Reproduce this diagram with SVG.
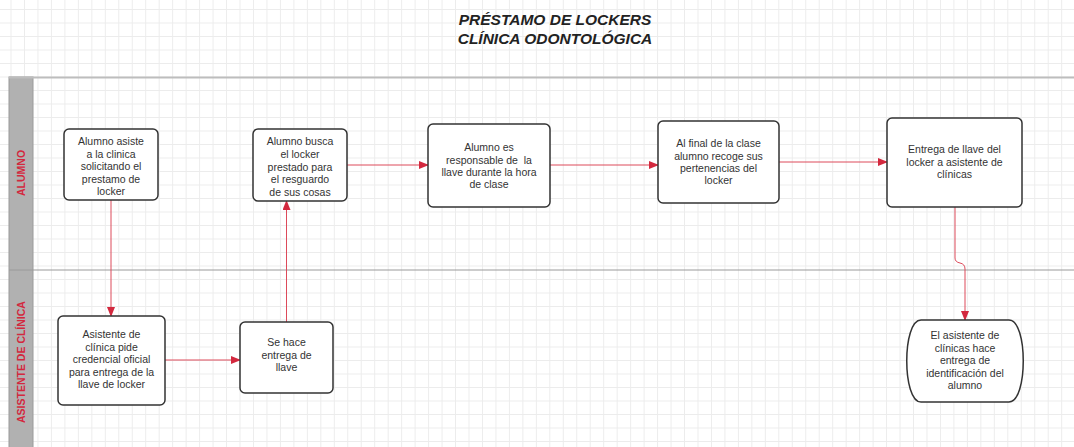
<svg xmlns="http://www.w3.org/2000/svg" width="1074" height="447" viewBox="0 0 1074 447">
<defs>
<pattern id="grid" patternUnits="userSpaceOnUse" x="10.53" y="9" width="13.47" height="13.5">
<path d="M0.5 0V13.5M0 0.5H13.47" stroke="#ececec" stroke-width="1" fill="none"/>
</pattern>
<marker id="arr" markerUnits="userSpaceOnUse" markerWidth="10" markerHeight="8" refX="9" refY="4" orient="auto">
<path d="M0,0 L10,4 L0,8 z" fill="#d3283e"/>
</marker>
<style>
.node{fill:#fff;stroke:#333;stroke-width:1.5}
.t{font-family:"Liberation Sans",Arial,sans-serif;font-size:10.5px;fill:#333;text-anchor:middle}
.lane{font-family:"Liberation Sans",Arial,sans-serif;font-size:10.5px;font-weight:bold;fill:#d3283e;text-anchor:middle}
.title{font-family:"Liberation Sans",Arial,sans-serif;font-size:15.5px;font-weight:bold;font-style:italic;fill:#222;text-anchor:middle}
.c{fill:none;stroke:#dd4a5a;stroke-width:1}
</style>
</defs>
<rect width="1074" height="447" fill="#fff"/>
<rect width="1074" height="447" fill="url(#grid)"/>
<g id="title">
<text class="title" x="555" y="25">PRÉSTAMO DE LOCKERS</text>
<text class="title" x="555" y="43.5">CLÍNICA ODONTOLÓGICA</text>
</g>
<g id="lanes">
<rect x="9" y="77" width="24" height="372" fill="#b1b1b1" stroke="#9a9a9a" stroke-width="1"/>
<line x1="9" y1="77.5" x2="1074" y2="77.5" stroke="#bdbdbd" stroke-width="2"/>
<line x1="9" y1="270" x2="1074" y2="270" stroke="#9a9a9a" stroke-width="1"/>
<text class="lane" transform="translate(24.5,173) rotate(-90)">ALUMNO</text>
<text class="lane" transform="translate(24.5,362) rotate(-90)">ASISTENTE DE CLÍNICA</text>
</g>
<g id="connectors">
<path class="c" d="M111 200V316" marker-end="url(#arr)"/>
<path class="c" d="M165 360H240" marker-end="url(#arr)"/>
<path class="c" d="M286.5 322V201" marker-end="url(#arr)"/>
<path class="c" d="M347 165H428" marker-end="url(#arr)"/>
<path class="c" d="M550 165H658" marker-end="url(#arr)"/>
<path class="c" d="M779 162H887" marker-end="url(#arr)"/>
<path class="c" d="M955 207V258Q955 262 960 263Q965 264 965 269V320" marker-end="url(#arr)"/>
</g>
<g id="n1">
<rect class="node" x="64" y="129" width="94" height="71" rx="5"/>
<text class="t" x="111" y="145">Alumno asiste</text>
<text class="t" x="111" y="157.5">a la clinica</text>
<text class="t" x="111" y="170">solicitando el</text>
<text class="t" x="111" y="182.5">prestamo de</text>
<text class="t" x="111" y="195">locker</text>
</g>
<g id="n2">
<rect class="node" x="253" y="129" width="94" height="72" rx="5"/>
<text class="t" x="300" y="145">Alumno busca</text>
<text class="t" x="300" y="158">el locker</text>
<text class="t" x="300" y="170.5">prestado para</text>
<text class="t" x="300" y="183">el resguardo</text>
<text class="t" x="300" y="195.5">de sus cosas</text>
</g>
<g id="n3">
<rect class="node" x="428" y="124" width="122" height="83" rx="5"/>
<text class="t" x="489" y="151">Alumno es</text>
<text class="t" x="489" y="163.5" xml:space="preserve">responsable de  la</text>
<text class="t" x="489" y="176">llave durante la hora</text>
<text class="t" x="489" y="188">de clase</text>
</g>
<g id="n4">
<rect class="node" x="658" y="121" width="121" height="82" rx="5"/>
<text class="t" x="718.5" y="147">Al final de la clase</text>
<text class="t" x="718.5" y="159.5">alumno recoge sus</text>
<text class="t" x="718.5" y="172">pertenencias del</text>
<text class="t" x="718.5" y="184">locker</text>
</g>
<g id="n5">
<rect class="node" x="887" y="118" width="135" height="89" rx="5"/>
<text class="t" x="954.5" y="153">Entrega de llave del</text>
<text class="t" x="954.5" y="165.5">locker a asistente de</text>
<text class="t" x="954.5" y="178">clínicas</text>
</g>
<g id="n6">
<rect class="node" x="58" y="316" width="107" height="89" rx="5"/>
<text class="t" x="111.5" y="338">Asistente de</text>
<text class="t" x="111.5" y="350.5">clínica pide</text>
<text class="t" x="111.5" y="363">credencial oficial</text>
<text class="t" x="111.5" y="375.5">para entrega de la</text>
<text class="t" x="111.5" y="388">llave de locker</text>
</g>
<g id="n7">
<rect class="node" x="240" y="322" width="93" height="71" rx="5"/>
<text class="t" x="286.5" y="346">Se hace</text>
<text class="t" x="286.5" y="358.5">entrega de</text>
<text class="t" x="286.5" y="371">llave</text>
</g>
<g id="n8">
<path class="node" d="M921 320H1009C1028 320 1028 402 1009 402H921C902 402 902 320 921 320Z"/>
<text class="t" x="965" y="339">El asistente de</text>
<text class="t" x="965" y="351.5">clínicas hace</text>
<text class="t" x="965" y="364">entrega de</text>
<text class="t" x="965" y="376.5">identificación del</text>
<text class="t" x="965" y="389">alumno</text>
</g>
</svg>
